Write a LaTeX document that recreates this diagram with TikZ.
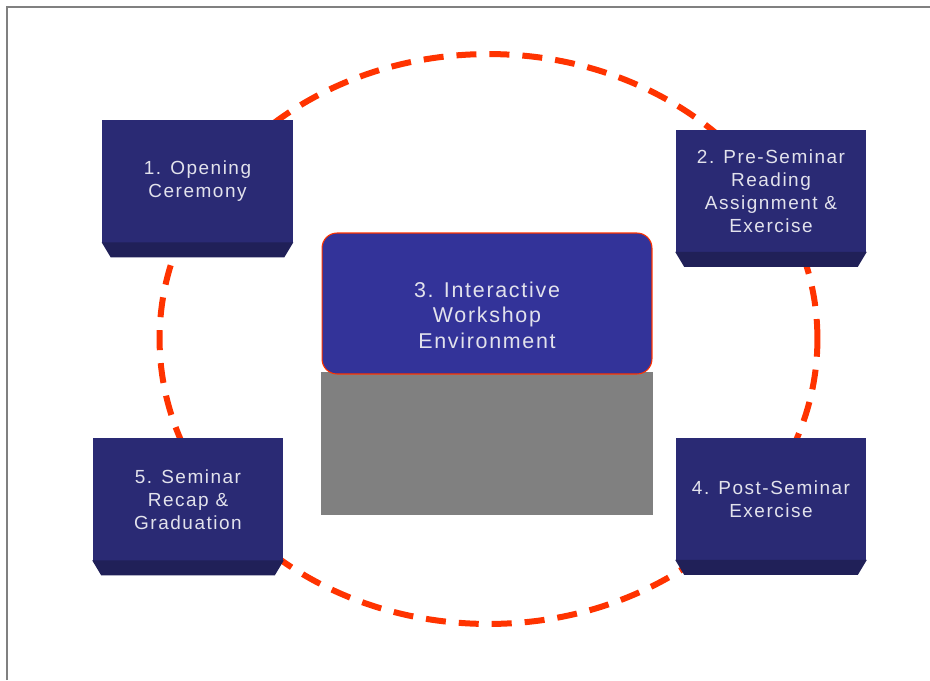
\documentclass[tikz,border=0pt]{standalone}
\usepackage{fontspec}
\setmainfont[LetterSpace=8]{Liberation Sans}
\definecolor{boxfront}{RGB}{42,42,116}
\definecolor{boxedge}{RGB}{32,32,88}
\definecolor{hubfill}{RGB}{51,51,153}
\definecolor{ringred}{RGB}{255,51,0}
\definecolor{boxtext}{RGB}{226,226,236}
\definecolor{screengray}{RGB}{128,128,128}
\tikzset{
  stepbox/.style={fill=boxfront, text=boxtext, align=center, minimum width=3.82cm,
    minimum height=2.46cm, inner sep=0pt, font=\fontsize{10.8}{13}\selectfont},
  bevel/.style={fill=boxedge},
  hubbox/.style={fill=hubfill, draw=ringred, line width=0.6pt, rounded corners=0.3cm,
    minimum width=6.6cm, minimum height=2.82cm, inner sep=0pt},
  hubtext/.style={text=boxtext, align=center, font=\fontsize{12.2}{14.5}\selectfont},
  screen/.style={fill=screengray, minimum width=6.64cm, minimum height=2.86cm, inner sep=0pt},
  ring/.style={draw=ringred, line width=0.12cm, dash pattern=on 0.4cm off 0.26cm},
  frameline/.style={draw=screengray, line width=0.8pt}
}
\begin{document}
\begin{tikzpicture}[x=0.02cm, y=-0.02cm]
\useasboundingbox (0,0) rectangle (930,680);
\draw[frameline] (7,680) -- (7,7) -- (930,7);
% dashed cycle behind the steps
\draw[ring] (488.5,339) ellipse [x radius=6.58cm, y radius=5.7cm];
\node[stepbox] (open) at (197.5,181.5) {1. Opening\\Ceremony};
\node[stepbox] (pre) at (771,191) {2. Pre-Seminar\\Reading\\Assignment \&\\Exercise};
\node[stepbox] (post) at (771,499) {4. Post-Seminar\\Exercise};
\node[stepbox] (recap) at (188,499.5) {5. Seminar\\Recap \&\\Graduation};
\foreach \b in {open,pre,post,recap}
  \fill[bevel] ([shift={(0,-1)}]\b.south west) -- ([shift={(0,-1)}]\b.south east)
    -- ([shift={(-9,14)}]\b.south east) -- ([shift={(9,14)}]\b.south west) -- cycle;
% centre
\node[screen] (scr) at (487,443.5) {};
\node[hubbox] (hub) at (487,303.5) {};
\node[hubtext] (hubtxt) at (487,315) {3. Interactive\\Workshop\\Environment};
\end{tikzpicture}
\end{document}
